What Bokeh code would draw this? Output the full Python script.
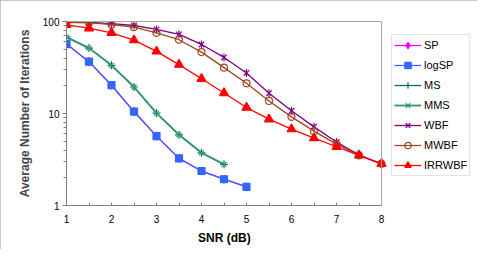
from bokeh.plotting import figure
from bokeh.models import (FixedTicker, Legend, LegendItem, BasicTickFormatter, Range1d,
                          LogTicker, LinearAxis, Span, Title)
from bokeh.embed import file_html
from bokeh.resources import INLINE
import math

# ---- data ----
snr = [1, 1.5, 2, 2.5, 3, 3.5, 4, 4.5, 5, 5.5, 6, 6.5, 7, 7.5, 8]
sp = [56.8, 36.6, 20.3, 10.5, 5.68, 3.25, 2.37, 1.93, 1.59]
logsp = [56.8, 36.6, 20.3, 10.5, 5.68, 3.25, 2.37, 1.93, 1.59]
ms = [67.6, 51.4, 33.4, 19.4, 10.1, 5.87, 3.74, 2.80]
mms = [67.6, 51.4, 33.4, 19.4, 10.1, 5.87, 3.74, 2.80]
wbf = [98.2, 97.5, 95.0, 90.5, 81.9, 72.3, 56.3, 40.7, 27.6, 16.6, 10.7, 7.16, 4.89, 3.56, 2.84]
mwbf = [98.0, 97.0, 92.8, 86.8, 75.4, 63.4, 46.5, 31.5, 21.3, 13.7, 9.19, 6.43, 4.65, 3.50, 2.84]
irrwbf = [92.1, 84.6, 75.4, 62.7, 47.3, 34.0, 23.9, 16.7, 11.6, 8.67, 6.76, 5.40, 4.35, 3.51, 2.84]
x_ticks = [1, 2, 3, 4, 5, 6, 7, 8]
x_minor = [1.5, 2.5, 3.5, 4.5, 5.5, 6.5, 7.5]
y_ticks = [1, 10, 100]
x_title = "SNR (dB)"
y_title = "Average Number of Iterations"

FONT = "Liberation Sans"
W, H = 477, 249
FL, FT, FB = 66, 21, 44          # frame left / top / bottom borders (px)
PLOT_RIGHT = 381                  # pixel where the plot box ends (x = last tick)
x0, x1 = x_ticks[0], x_ticks[-1]
x_end = x0 + (W - FL) / (PLOT_RIGHT - FL) * (x1 - x0)   # frame extends under legend

p = figure(width=W, height=H, x_range=Range1d(x0, x_end), y_range=Range1d(y_ticks[0], y_ticks[-1]),
           y_axis_type="log", output_backend="svg", toolbar_location=None,
           min_border_left=FL, min_border_top=FT, min_border_right=0, min_border_bottom=FB)
p.styles = {"outline": "1px solid #b4b4b4", "outline-offset": "-1px"}
p.background_fill_color = "white"
p.border_fill_color = "white"
p.outline_line_color = None
p.xgrid.visible = False
p.ygrid.visible = False

# x axis
p.xaxis.bounds = (x0, x1)
p.xaxis.ticker = FixedTicker(ticks=x_ticks, minor_ticks=x_minor)
p.xaxis.axis_line_color = "#808080"
p.xaxis.major_tick_line_color = "#808080"
p.xaxis.minor_tick_line_color = "#808080"
p.xaxis.major_tick_in = 3
p.xaxis.major_tick_out = 0
p.xaxis.minor_tick_in = 3
p.xaxis.minor_tick_out = 0
p.xaxis.major_label_standoff = 9
p.xaxis.major_label_text_font = FONT
p.xaxis.major_label_text_font_size = "10px"
p.xaxis.major_label_text_color = "black"

# x-axis title, centred under the plot box (not under the legend)
xt = Title(text=x_title, align="left", offset=(PLOT_RIGHT - FL) / 2 - 26,
           text_font=FONT, text_font_size="12px", text_font_style="bold",
           text_color="black", standoff=6)
p.add_layout(xt, "below")

# y axis
p.yaxis.ticker = LogTicker(desired_num_ticks=3, num_minor_ticks=10)
p.yaxis.formatter = BasicTickFormatter()
p.yaxis.major_label_overrides = {float(v): str(v) for v in y_ticks}
p.yaxis.axis_line_color = "#808080"
p.yaxis.major_tick_line_color = "#808080"
p.yaxis.minor_tick_line_color = "#808080"
p.yaxis.major_tick_in = 0
p.yaxis.major_tick_out = 4
p.yaxis.minor_tick_in = 0
p.yaxis.minor_tick_out = 3
p.yaxis.major_label_standoff = 3
p.yaxis.major_label_text_font = FONT
p.yaxis.major_label_text_font_size = "10px"
p.yaxis.major_label_text_color = "black"
p.yaxis.axis_label = y_title
p.yaxis.axis_label_text_font = FONT
p.yaxis.axis_label_text_font_size = "12px"
p.yaxis.axis_label_text_font_style = "bold"
p.yaxis.axis_label_standoff = 8

# plot-box top and right edges
top = LinearAxis(bounds=(x0, x1), ticker=FixedTicker(ticks=[]), axis_line_color="#a6a6a6")
p.add_layout(top, "above")
p.add_layout(Span(location=x1, dimension="height", line_color="#a6a6a6", line_width=1))

items = []

def series(name, ys, color, marker, size=7, fill=True, lw=1.3, extra=None):
    xs = snr[:len(ys)]
    r1 = p.line(xs, ys, line_color=color, line_width=lw)
    rs = [r1]
    r2 = p.scatter(xs, ys, marker=marker, size=size, line_color=color,
                   fill_color=color if fill else None, line_width=1.2)
    rs.append(r2)
    if extra is not None:
        r3 = p.scatter(xs, ys, marker=extra, size=size, line_color=color,
                       angle=math.pi / 2, line_width=1.2)
        rs.append(r3)
    items.append(LegendItem(label=name, renderers=rs))

series("SP", sp, "#FF00FF", "diamond", size=8)
series("logSP", logsp, "#3366FF", "square", size=7)
series("MS", ms, "#006E6E", "cross", size=8)
series("MMS", mms, "#339966", "x", size=7, lw=1.8)
series("WBF", wbf, "#800080", "x", size=8, extra="dash")
series("MWBF", mwbf, "#A0461E", "circle", size=7, fill=False)
series("IRRWBF", irrwbf, "#FF0000", "triangle", size=9)

legend = Legend(items=items, location=(391 - FL, 29))
legend.border_line_color = "#c8c8c8"
legend.border_line_width = 1
legend.background_fill_color = "white"
legend.background_fill_alpha = 1
legend.label_text_font = FONT
legend.label_text_font_size = "11px"
legend.label_text_color = "black"
legend.glyph_width = 27
legend.glyph_height = 16
legend.label_height = 16
legend.label_standoff = 3
legend.spacing = 4
legend.padding = 2
legend.margin = 0
p.add_layout(legend, "center")

open("out.html", "w").write(file_html(p, INLINE))
